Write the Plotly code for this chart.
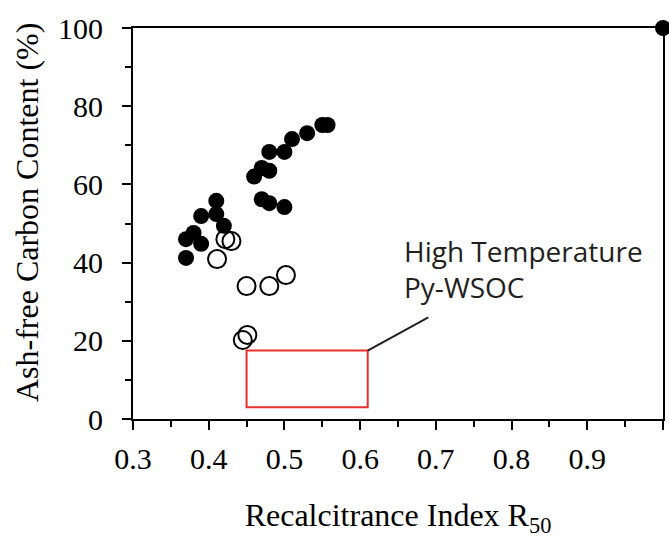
import plotly.graph_objects as go

# Recalcitrance index R50 vs ash-free carbon content
filled_x = [0.37, 0.37, 0.38, 0.39, 0.39, 0.41, 0.41, 0.42,
            0.46, 0.47, 0.48, 0.48, 0.50, 0.51, 0.53, 0.55, 0.557,
            0.47, 0.48, 0.50, 1.00]
filled_y = [41.2, 46.0, 47.6, 44.8, 51.9, 52.4, 55.8, 49.4,
            62.0, 64.2, 63.5, 68.3, 68.3, 71.6, 73.1, 75.2, 75.2,
            56.2, 55.2, 54.2, 100.0]

open_x = [0.422, 0.430, 0.411, 0.450, 0.480, 0.502, 0.445, 0.451]
open_y = [46.0, 45.5, 40.9, 34.0, 34.0, 36.8, 20.2, 21.5]

# High temperature Py-WSOC region
box_x = [0.45, 0.61]
box_y = [3.0, 17.5]
leader_x = [0.61, 0.69]
leader_y = [17.5, 26.0]
label_text = "High Temperature<br>Py-WSOC"

x_ticks = [0.3, 0.4, 0.5, 0.6, 0.7, 0.8, 0.9, 1.0]
x_tick_text = ["0.3", "0.4", "0.5", "0.6", "0.7", "0.8", "0.9", "1"]
y_ticks = [0, 20, 40, 60, 80, 100]

x_title = "Recalcitrance Index R<sub>50</sub>"
y_title = "Ash-free Carbon Content (%)"

fig = go.Figure()
fig.add_trace(go.Scatter(
    x=open_x, y=open_y, mode="markers",
    marker=dict(symbol="circle-open", size=18, color="black",
                line=dict(width=2, color="black")),
    cliponaxis=False, showlegend=False))
fig.add_trace(go.Scatter(
    x=filled_x, y=filled_y, mode="markers",
    marker=dict(symbol="circle", size=16, color="black"),
    cliponaxis=False, showlegend=False))

fig.add_shape(type="rect", x0=box_x[0], x1=box_x[1], y0=box_y[0], y1=box_y[1],
              line=dict(color="#e8302e", width=2), fillcolor="rgba(0,0,0,0)")
fig.add_shape(type="line", x0=leader_x[0], x1=leader_x[1],
              y0=leader_y[0], y1=leader_y[1],
              line=dict(color="#231f20", width=2))

fig.add_annotation(x=0.655, y=38.4, text=label_text, showarrow=False,
                   xanchor="left", yanchor="middle", align="left",
                   font=dict(family="Open Sans", size=28, color="#231f20"))

serif = "Liberation Serif, Times New Roman, serif"

# vertical axis title, sitting slightly above the plot's mid-height
fig.add_annotation(xref="paper", yref="paper", x=-0.201, y=0.528,
                   text=y_title, textangle=-90, showarrow=False,
                   xanchor="center", yanchor="middle",
                   font=dict(family=serif, size=32, color="black"))

fig.update_layout(
    width=669, height=538,
    margin=dict(l=133, r=4, t=28, b=119),
    paper_bgcolor="white", plot_bgcolor="white",
    font=dict(family=serif, color="black"),
    xaxis=dict(
        range=[0.3, 1.0], tickvals=x_ticks, ticktext=x_tick_text,
        ticks="outside", ticklen=9, tickwidth=2, tickcolor="black",
        minor=dict(dtick=0.05, ticks="outside", ticklen=6, tickwidth=2,
                   tickcolor="black", showgrid=False),
        showline=True, linewidth=2, linecolor="black", mirror=True,
        showgrid=False, zeroline=False,
        tickfont=dict(family=serif, size=30, color="black"),
        ticklabelstandoff=3,
        title=dict(text=x_title,
                   font=dict(family=serif, size=32, color="black"),
                   standoff=35),
    ),
    yaxis=dict(
        range=[0, 100], tickvals=y_ticks,
        ticks="outside", ticklen=9, tickwidth=2, tickcolor="black",
        minor=dict(dtick=10, ticks="outside", ticklen=6, tickwidth=2,
                   tickcolor="black", showgrid=False),
        showline=True, linewidth=2, linecolor="black", mirror=True,
        showgrid=False, zeroline=False,
        tickfont=dict(family=serif, size=30, color="black"),
        ticklabelstandoff=13,
    ),
)

fig.write_html("out.html")
